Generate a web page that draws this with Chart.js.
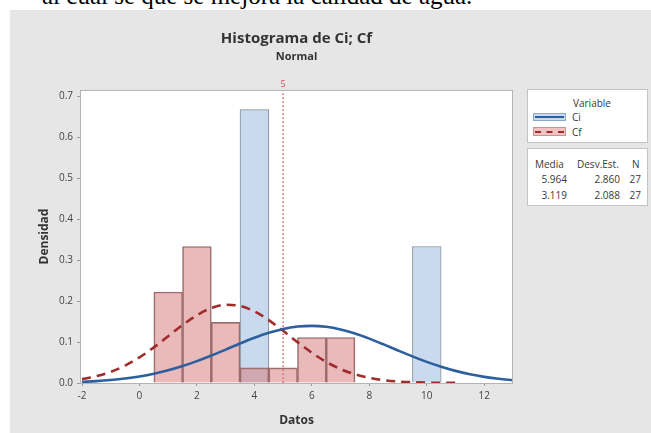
<!DOCTYPE html>
<html><head><meta charset="utf-8">
<script src="https://cdn.jsdelivr.net/npm/chart.js@4.4.0/dist/chart.umd.min.js"></script>
<style>
html,body{margin:0;padding:0;background:#fff;width:651px;height:433px;overflow:hidden;font-family:"Open Sans",sans-serif;}
#top{position:absolute;left:42px;top:-19px;font-family:"Liberation Serif",serif;font-size:25px;line-height:29px;color:#000;white-space:nowrap;}
#panel{position:absolute;left:10px;top:10px;width:641px;height:423px;background:#e6e6e6;}
#c{position:absolute;left:0;top:0;}
.box{position:absolute;background:#fff;border:1px solid #c4c4c4;box-sizing:border-box;font-size:10px;color:#3a3a3a;}
.box span{position:absolute;line-height:12px;white-space:nowrap;}
.sw{position:absolute;left:5px;width:33px;box-sizing:border-box;}
.sw i{position:absolute;left:1px;right:1px;height:0;}
</style></head>
<body>
<div id="top">al cual se que se mejora la calidad de agua.</div>
<div id="panel"><canvas id="c" width="641" height="423"></canvas></div>

<div class="box" style="left:527px;top:89px;width:121px;height:54px;">
  <span style="left:45px;top:7px;">Variable</span>
  <div class="sw" style="top:23px;height:8px;background:#c9daef;border:1px solid #8aa8d2;"><i style="top:2px;border-top:2px solid #2d5f9e;"></i></div>
  <span style="left:44px;top:21px;">Ci</span>
  <div class="sw" style="top:37px;height:9px;background:#f0c4c4;border:1px solid #cf9090;"><i style="top:2.5px;border-top:2px dashed #a02c2c;"></i></div>
  <span style="left:44px;top:36px;">Cf</span>
</div>
<div class="box" style="left:527px;top:148px;width:121px;height:58px;">
  <span style="left:7px;top:9px;">Media</span>
  <span style="left:49px;top:9px;">Desv.Est.</span>
  <span style="left:104px;top:9px;">N</span>
  <span style="right:80px;top:24px;">5.964</span>
  <span style="right:27px;top:24px;">2.860</span>
  <span style="right:6px;top:24px;">27</span>
  <span style="right:80px;top:40px;">3.119</span>
  <span style="right:27px;top:40px;">2.088</span>
  <span style="right:6px;top:40px;">27</span>
</div>

<script>
// ---- data ----
const ciBins = [4, 10];
const ciDensity = [0.667, 0.333];
const cfBins = [1, 2, 3, 4, 5, 6, 7];
const cfDensity = [0.222, 0.333, 0.148, 0.037, 0.037, 0.111, 0.111];

const ciCurveX = [-2,-1.5,-1,-0.5,0,0.5,1,1.5,2,2.5,3,3.5,4,4.5,5,5.5,6,6.5,7,7.5,8,8.5,9,9.5,10,10.5,11,11.5,12,12.5,13];
const ciCurveY = [0.0029,0.0046,0.0072,0.0109,0.0159,0.0225,0.0309,0.0413,0.0534,0.0670,0.0815,0.0963,0.1102,0.1224,0.1318,0.1377,0.1395,0.1371,0.1306,0.1208,0.1083,0.0942,0.0794,0.0650,0.0515,0.0397,0.0296,0.0214,0.0150,0.0102,0.0068];
const cfCurveX = [-2,-1.5,-1,-0.5,0,0.5,1,1.5,2,2.5,3,3.5,4,4.5,5,5.5,6,6.5,7,7.5,8,8.5,9,9.5,10,10.5,11];
const cfCurveY = [0.0095,0.0166,0.0273,0.0426,0.0626,0.0870,0.1142,0.1415,0.1655,0.1829,0.1908,0.1879,0.1748,0.1536,0.1273,0.0998,0.0738,0.0515,0.0340,0.0212,0.0124,0.0069,0.0036,0.0018,0.0008,0.0004,0.0002];

const xTicks = [-2, 0, 2, 4, 6, 8, 10, 12];
const yTicks = [0, 0.1, 0.2, 0.3, 0.4, 0.5, 0.6, 0.7];
const yTickLabels = ['0.0','0.1','0.2','0.3','0.4','0.5','0.6','0.7'];
const refX = 5;
const refLabel = '5';
const xRange = [-2.07, 13];
const yRange = [0, 0.715];

const pts = (xs, ys) => xs.map((x, i) => ({x: x, y: ys[i]}));

const framePlugin = {
  id: 'frame',
  beforeDatasetsDraw(chart) {
    const a = chart.chartArea, c = chart.ctx;
    c.save(); c.fillStyle = '#ffffff';
    c.fillRect(a.left, a.top, a.right - a.left, a.bottom - a.top);
    c.restore();
  },
  afterDatasetsDraw(chart) {
    const a = chart.chartArea, c = chart.ctx;
    c.save(); c.strokeStyle = '#b4b4b4'; c.lineWidth = 1;
    c.strokeRect(a.left + 0.5, a.top + 0.5, a.right - a.left - 1, a.bottom - a.top);
    const px = chart.scales.x.getPixelForValue(refX);
    c.fillStyle = '#d0505c';
    c.font = '9px "Open Sans"';
    c.textAlign = 'center'; c.textBaseline = 'bottom';
    c.fillText(refLabel, px, a.top - 1);
    c.restore();
  }
};

new Chart(document.getElementById('c'), {
  type: 'bar',
  data: {
    datasets: [
      {type: 'line', label: 'Ci', data: pts(ciCurveX, ciCurveY), borderColor: '#2d5f9e', borderWidth: 2.6,
       pointRadius: 0, cubicInterpolationMode: 'monotone', fill: false, order: 0},
      {type: 'line', label: 'Cf', data: pts(cfCurveX, cfCurveY), borderColor: '#a02c2c', borderWidth: 2.6,
       borderDash: [9, 6], pointRadius: 0, cubicInterpolationMode: 'monotone', fill: false, order: 0},
      {type: 'line', label: 'ref', data: [{x: refX, y: yRange[0]}, {x: refX, y: yRange[1]}], borderColor: '#d9606c',
       borderWidth: 1.5, borderDash: [1.5, 2.5], pointRadius: 0, fill: false, order: 0},
      {type: 'bar', label: 'Cf bars', data: pts(cfBins, cfDensity), backgroundColor: 'rgba(214,118,118,0.5)',
       borderColor: '#8e6e6e', borderWidth: 1, grouped: false, barPercentage: 1, categoryPercentage: 1, order: 1},
      {type: 'bar', label: 'Ci bars', data: pts(ciBins, ciDensity), backgroundColor: '#c9daef',
       borderColor: '#8a8f9a', borderWidth: 1, grouped: false, barPercentage: 1, categoryPercentage: 1, order: 2}
    ]
  },
  options: {
    responsive: false, animation: false, devicePixelRatio: 1,
    layout: {padding: {left: 0, right: 138, top: 0, bottom: 0}},
    plugins: {
      legend: {display: false}, tooltip: {enabled: false},
      title: {display: true, text: 'Histograma de Ci; Cf', fullSize: false, color: '#333',
        font: {family: '"Open Sans"', size: 15, weight: 'bold'}, padding: {top: 20, bottom: 2}},
      subtitle: {display: true, text: 'Normal', fullSize: false, color: '#333',
        font: {family: '"Open Sans"', size: 11, weight: 'bold'}, padding: {top: 0, bottom: 26.8}}
    },
    scales: {
      x: {type: 'linear', min: xRange[0], max: xRange[1], offset: false,
        grid: {display: true, drawOnChartArea: false, offset: false, tickLength: 3, color: '#999'},
        border: {display: false},
        ticks: {includeBounds: false, padding: 4, color: '#444', font: {family: '"Open Sans"', size: 10}},
        afterBuildTicks: s => { s.ticks = xTicks.map(v => ({value: v})); },
        afterFit: s => { s.height = 50; },
        title: {display: true, text: 'Datos', color: '#333', font: {family: '"Open Sans"', size: 12, weight: 'bold'}, padding: {top: 0, bottom: 5}}
      },
      y: {type: 'linear', min: yRange[0], max: yRange[1],
        grid: {display: true, drawOnChartArea: false, tickLength: 3, color: '#999'},
        border: {display: false},
        ticks: {includeBounds: false, padding: 4, color: '#444', font: {family: '"Open Sans"', size: 10},
          callback: (v) => { const i = yTicks.findIndex(t => Math.abs(t - v) < 1e-9); return i >= 0 ? yTickLabels[i] : ''; }},
        afterBuildTicks: s => { s.ticks = yTicks.map(v => ({value: v})); },
        afterFit: s => { s.width = 70; },
        title: {display: true, text: 'Densidad', color: '#333', font: {family: '"Open Sans"', size: 12, weight: 'bold'}, padding: {top: 27.8, bottom: 0}}
      }
    }
  },
  plugins: [framePlugin]
});
</script>
</body></html>
